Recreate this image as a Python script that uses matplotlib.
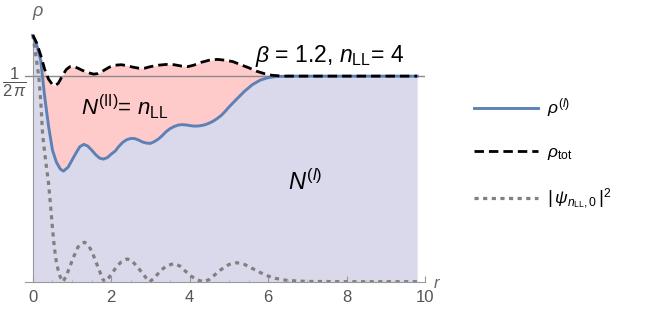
import matplotlib
matplotlib.use('Agg')
import matplotlib.pyplot as plt
import numpy as np

plt.rcParams['font.family'] = ['Liberation Sans', 'DejaVu Sans']
plt.rcParams['mathtext.fontset'] = 'custom'
plt.rcParams['mathtext.rm'] = 'Liberation Sans'
plt.rcParams['mathtext.it'] = 'Liberation Sans:italic'
plt.rcParams['mathtext.bf'] = 'Liberation Sans:bold'

# rho^(l)
r_blue = [0.0, 0.1, 0.2, 0.3, 0.4, 0.5, 0.6, 0.7, 0.78, 0.9, 1.0, 1.1, 1.2, 1.3, 1.4, 1.5,
          1.6, 1.7, 1.8, 1.9, 2.0, 2.1, 2.2, 2.3, 2.4, 2.5, 2.6, 2.7, 2.8, 2.9, 3.0, 3.1,
          3.2, 3.3, 3.4, 3.5, 3.6, 3.7, 3.8, 3.9, 4.0, 4.1, 4.2, 4.3, 4.4, 4.5, 4.6, 4.7,
          4.8, 4.9, 5.0, 5.2, 5.4, 5.6, 5.8, 6.0, 6.2, 6.5, 9.8]
rho_blue = [0.1909, 0.1831, 0.1715, 0.1437, 0.1205, 0.1019, 0.0926, 0.0872, 0.0856, 0.0887,
            0.0942, 0.0996, 0.1046, 0.1063, 0.1050, 0.1019, 0.0984, 0.0957, 0.0949, 0.0961,
            0.0988, 0.1011, 0.1050, 0.1081, 0.1100, 0.1109, 0.1108, 0.1096, 0.1081, 0.1073,
            0.1071, 0.1085, 0.1104, 0.1131, 0.1162, 0.1185, 0.1201, 0.1212, 0.1216, 0.1214,
            0.1209, 0.1205, 0.1205, 0.1209, 0.1216, 0.1228, 0.1243, 0.1263, 0.1286, 0.1317,
            0.1352, 0.1414, 0.1475, 0.1526, 0.1561, 0.1580, 0.1588, 0.15915, 0.15915]

# rho_tot
r_tot = [0.0, 0.1, 0.2, 0.3, 0.4, 0.5, 0.57, 0.65, 0.75, 0.85, 0.95, 1.05, 1.15, 1.25, 1.4,
         1.55, 1.65, 1.8, 1.95, 2.1, 2.25, 2.4, 2.55, 2.7, 2.85, 3.0, 3.2, 3.4, 3.6, 3.8,
         3.95, 4.1, 4.3, 4.5, 4.7, 4.9, 5.1, 5.3, 5.5, 5.7, 5.9, 6.1, 6.4, 9.8]
rho_tot = [0.1909, 0.1847, 0.1754, 0.1646, 0.1568, 0.1526, 0.1518, 0.1537, 0.1592, 0.1642,
           0.1665, 0.1665, 0.1653, 0.1638, 0.1619, 0.1607, 0.1611, 0.1634, 0.1661, 0.1676,
           0.1680, 0.1673, 0.1661, 0.1653, 0.1653, 0.1665, 0.1676, 0.1682, 0.1680, 0.1669,
           0.1665, 0.1676, 0.1699, 0.1715, 0.1721, 0.1715, 0.1704, 0.1680, 0.1657, 0.1630,
           0.1611, 0.1598, 0.15915, 0.15915]

# |psi_{nLL,0}|^2
r_psi = [0.0, 0.1, 0.15, 0.2, 0.25, 0.3, 0.35, 0.4, 0.45, 0.5, 0.55, 0.6, 0.65, 0.7, 0.77,
         0.85, 0.95, 1.05, 1.15, 1.25, 1.32, 1.4, 1.5, 1.6, 1.7, 1.78, 1.84, 1.95, 2.05,
         2.15, 2.25, 2.4, 2.5, 2.6, 2.7, 2.8, 2.9, 2.98, 3.1, 3.25, 3.4, 3.6, 3.75, 3.9,
         4.05, 4.2, 4.35, 4.5, 4.65, 4.8, 5.0, 5.2, 5.4, 5.6, 5.8, 6.0, 6.2, 6.5, 7.0, 8.0, 9.8]
rho_psi = [0.1909, 0.1700, 0.1592, 0.1406, 0.1135, 0.1004, 0.0880, 0.0764, 0.0593, 0.0415,
           0.0261, 0.0152, 0.0083, 0.0036, 0.0, 0.0044, 0.0121, 0.0199, 0.0268, 0.0299,
           0.0305, 0.0288, 0.0238, 0.0160, 0.0083, 0.0021, 0.0, 0.0036, 0.0079, 0.0121,
           0.0152, 0.0176, 0.0168, 0.0137, 0.0102, 0.0063, 0.0025, 0.0, 0.0029, 0.0083,
           0.0121, 0.0141, 0.0121, 0.0079, 0.0040, 0.0013, 0.0, 0.0017, 0.0056, 0.0094,
           0.0133, 0.0147, 0.0133, 0.0102, 0.0071, 0.0044, 0.0025, 0.0009, 0.0002, 0.0, 0.0]

level = 1 / (2 * np.pi)
x_ticks = [0, 2, 4, 6, 8, 10]

fig = plt.figure(figsize=(6.49, 3.09), dpi=100)
ax = fig.add_axes([25 / 649, 27.3 / 309, 400 / 649, 248 / 309])

# fills: under rho^(l) and between rho^(l) and rho_tot (on a common grid of the read points)
r_all = np.array(sorted(set(r_blue) | set(r_tot)))
b_all = np.interp(r_all, r_blue, rho_blue)
t_all = np.interp(r_all, r_tot, rho_tot)
ax.fill_between(r_all, 0, b_all, color='#d9d9eb', lw=0, zorder=1)
ax.fill_between(r_all, b_all, t_all, where=t_all >= b_all, interpolate=True,
                color='#ffcaca', lw=0, zorder=1)

ax.axhline(level, color='#8a8a8a', lw=1.0, zorder=2)

ax.plot(r_psi, rho_psi, color='#808080', lw=2.3, dashes=(1.3, 1.4), zorder=3,
        label=r'$\left|\,\psi_{n_{\mathrm{LL}},0}\,\right|^{2}$')
ax.plot(r_blue, rho_blue, color='#5e81b5', lw=2.1, zorder=4, label=r'$\rho^{(l)}$')
ax.plot(r_tot, rho_tot, color='black', lw=2.0, dashes=(3.4, 1.8), zorder=5,
        label=r'$\rho_{\mathrm{tot}}$')

ax.set_xlim(-0.2, 10.0)
ax.set_ylim(0, 0.192)

for s in ['top', 'right']:
    ax.spines[s].set_visible(False)
ax.spines['left'].set_position(('data', 0))
ax.spines['left'].set_color('#999999')
ax.spines['bottom'].set_color('#999999')

ax.set_xticks(x_ticks)
ax.set_xticklabels([str(t) for t in x_ticks])
ax.set_xticks(np.arange(0, 10.01, 0.5), minor=True)
ax.tick_params(axis='x', which='major', direction='in', length=4, color='#999999',
               labelcolor='#555555', labelsize=12, pad=6)
ax.tick_params(axis='x', which='minor', direction='in', length=2, color='#bbbbbb')
ax.set_yticks([level])
ax.set_yticklabels([r'$\dfrac{1}{2\,\pi}$'])
ax.tick_params(axis='y', direction='in', length=4, color='#999999',
               labelcolor='#555555', labelsize=12, pad=4)

fig.text(38 / 649, 1 - 13 / 309, r'$\rho$', color='#666666', fontsize=13,
         ha='center', va='center')
fig.text(437 / 649, 1 - 283 / 309, r'$r$', color='#666666', fontsize=12,
         ha='center', va='center')

ax.text(5.66, 0.1702, r'$\beta$ = 1.2, $n_{\mathrm{LL}}$= 4', fontsize=16.5,
        ha='left', va='baseline', zorder=6)
ax.text(1.24, 0.129, r'$N^{(\mathrm{II})}$= $n_{\mathrm{LL}}$', fontsize=16,
        ha='left', va='baseline', zorder=6)
ax.text(6.5, 0.0709, r'$N^{(l)}$', fontsize=17, ha='left', va='baseline', zorder=6)

handles, labels = ax.get_legend_handles_labels()
order = [1, 2, 0]
ax.legend([handles[i] for i in order], [labels[i] for i in order],
          loc='center left', bbox_to_anchor=((458 - 25) / 400, 0.515),
          frameon=False, fontsize=12.5, handlelength=3.7, handletextpad=0.5,
          labelspacing=1.45)

fig.savefig('out.png', dpi=100)
